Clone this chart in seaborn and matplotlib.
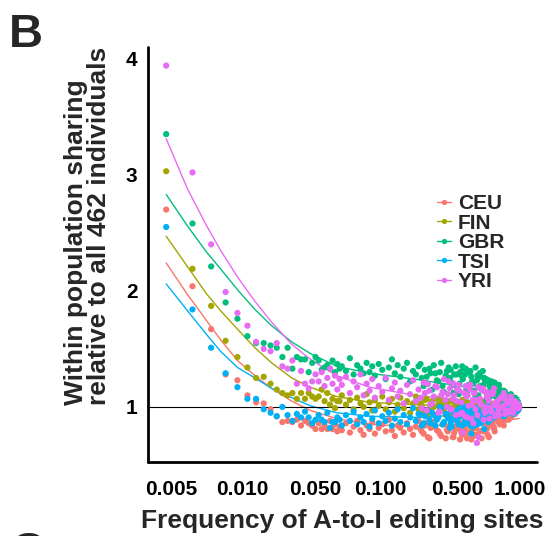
import matplotlib
matplotlib.use("Agg")
import matplotlib.pyplot as plt
import matplotlib.transforms as mtransforms
import numpy as np
import pandas as pd
import seaborn as sns
from matplotlib.lines import Line2D
from matplotlib.ticker import FixedLocator, FixedFormatter, NullLocator

# ---------------------------------------------------------------- data
populations = ["CEU", "FIN", "GBR", "TSI", "YRI"]
pop_colors = ["#F8766D", "#A3A500", "#00BF7D", "#00B0F6", "#E76BF3"]
n_individuals = 462

# number of carriers among the 462 individuals (frequency = count / 462)
allele_count = [
    2, 3, 4, 5, 6, 7, 8, 9, 10, 11, 12, 13, 14, 15, 16, 17, 18, 19,
    20, 21, 22, 23, 24, 25, 26, 27, 28, 29, 30, 32, 34, 36, 38, 40, 42, 44,
    46, 48, 50, 53, 56, 59, 62, 65, 68, 71, 74, 78, 82, 86, 90, 94, 98, 103,
    108, 113, 118, 124, 130, 136, 142, 149, 156, 163, 170, 178, 186, 194,
    203, 212, 221, 231, 241, 251, 262, 273, 284, 296, 308, 320, 333, 346,
    359, 372, 386, 400, 414, 428, 440, 450, 458, 462,
    101, 106, 111, 116, 121, 127, 133, 139, 145, 152, 159, 166, 174, 182,
    190, 198, 207, 216, 226, 236, 246, 256, 267, 278, 290, 302, 314, 326,
    339, 352, 365, 379, 393, 407, 421, 434, 445, 454, 460,
    201, 209, 218, 228, 238, 248, 259, 270, 281, 293, 305, 317, 330, 343,
    356, 369, 382, 396, 410, 424, 437,
    154, 161, 168, 176, 184, 192, 205, 214, 224, 233, 243, 253, 264, 275,
    287, 299, 311, 323, 336, 349, 362, 376, 390, 403, 417, 431, 443, 452,
]

ratio_ceu = [
    2.70, 2.04, 1.67, 1.28, 1.23, 1.10, 1.04, 1.03, 0.98, 0.92, 0.87, 0.88,
    0.87, 0.89, 0.84, 0.88, 0.86, 0.84,
    0.81, 0.86, 0.81, 0.84, 0.81, 0.88, 0.81, 0.85, 0.79, 0.83, 0.80, 0.86,
    0.78, 0.83, 0.88, 0.80, 0.76, 0.84, 0.81, 0.87, 0.77, 0.82, 0.85, 0.79,
    0.89, 0.80, 0.75, 0.84, 0.82, 0.78, 0.86, 0.81, 0.76, 0.83, 0.88, 0.79,
    0.84, 0.74, 0.82, 0.87, 0.80, 0.77, 0.85, 0.73, 0.83, 0.89, 0.78, 0.84,
    0.72, 0.86, 0.80, 0.91, 0.72, 0.83, 0.88, 0.79, 0.93, 0.85, 0.76, 0.90,
    0.84, 0.95, 0.88, 0.92, 0.86, 0.96, 0.91, 0.98, 0.94, 0.97, 1.00, 0.98,
    0.99, 1.00,
    0.81, 0.77, 0.86, 0.73, 0.83, 0.88, 0.79, 0.75, 0.85, 0.80, 0.90, 0.74,
    0.82, 0.87, 0.78, 0.84, 0.73, 0.89, 0.81, 0.76, 0.86, 0.92, 0.79, 0.84,
    0.74, 0.88, 0.82, 0.93, 0.87, 0.90, 0.84, 0.95, 0.89, 0.93, 0.96, 0.94,
    0.98, 0.97, 0.99,
    0.77, 0.85, 0.90, 0.75, 0.82, 0.87, 0.73, 0.89, 0.81, 0.92, 0.86, 0.79,
    0.91, 0.85, 0.94, 0.88, 0.92, 0.95, 0.91, 0.97, 0.96,
    0.79, 0.85, 0.74, 0.88, 0.81, 0.76, 0.87, 0.78, 0.83, 0.90, 0.75, 0.86,
    0.80, 0.92, 0.84, 0.89, 0.82, 0.93, 0.87, 0.91, 0.95, 0.89, 0.94, 0.97,
    0.95, 0.98, 0.97, 0.99,
]
ratio_fin = [
    3.03, 2.19, 1.87, 1.57, 1.43, 1.34, 1.25, 1.26, 1.20, 1.15, 1.12, 1.10,
    1.12, 1.07, 1.12, 1.07, 1.12, 1.09,
    1.07, 1.09, 1.15, 1.05, 1.12, 1.02, 1.07, 0.99, 1.05, 1.05, 1.10, 1.02,
    1.06, 0.98, 1.08, 1.03, 1.00, 1.11, 1.04, 0.97, 1.06, 1.01, 1.09, 0.98,
    1.04, 1.07, 0.96, 1.02, 1.08, 0.99, 1.05, 0.95, 1.03, 1.09, 0.98, 1.01,
    1.06, 0.94, 1.03, 1.00, 1.07, 0.97, 1.02, 0.93, 1.05, 0.99, 1.04, 0.92,
    1.01, 1.06, 0.96, 1.00, 0.83, 1.04, 0.95, 1.02, 0.91, 0.99, 1.05, 0.94,
    1.00, 0.97, 1.03, 0.95, 1.01, 0.98, 1.02, 0.96, 1.00, 0.98, 1.01, 0.99,
    1.00, 1.00,
    1.03, 0.96, 1.07, 0.99, 1.05, 0.93, 1.02, 1.06, 0.97, 1.01, 0.94, 1.05,
    0.99, 1.03, 0.92, 1.06, 1.00, 0.95, 1.04, 0.98, 1.02, 0.93, 1.05, 0.97,
    1.01, 0.96, 1.03, 0.98, 1.02, 0.95, 1.00, 1.03, 0.97, 1.01, 0.99, 1.02,
    0.98, 1.00, 1.00,
    0.98, 1.04, 0.94, 1.01, 1.06, 0.96, 1.00, 0.92, 1.03, 0.98, 1.02, 0.95,
    1.01, 0.97, 1.03, 0.99, 0.96, 1.01, 0.98, 1.00, 0.99,
    1.00, 1.05, 0.94, 1.02, 0.97, 1.06, 0.99, 0.93, 1.03, 0.98, 1.04, 0.96,
    1.01, 0.94, 1.03, 0.99, 1.02, 0.97, 1.00, 0.95, 1.02, 0.99, 1.01, 0.97,
    1.00, 0.99, 1.00, 1.00,
]
ratio_gbr = [
    3.35, 2.58, 2.21, 1.90, 1.76, 1.61, 1.55, 1.55, 1.53, 1.51, 1.43, 1.51,
    1.33, 1.43, 1.41, 1.41, 1.30, 1.38,
    1.43, 1.40, 1.32, 1.34, 1.36, 1.33, 1.40, 1.30, 1.37, 1.33, 1.35, 1.31,
    1.42, 1.28, 1.36, 1.33, 1.29, 1.38, 1.30, 1.35, 1.27, 1.37, 1.32, 1.24,
    1.34, 1.41, 1.29, 1.36, 1.26, 1.33, 1.38, 1.22, 1.31, 1.28, 1.35, 1.25,
    1.32, 1.20, 1.29, 1.36, 1.23, 1.30, 1.18, 1.27, 1.34, 1.21, 1.28, 1.16,
    1.30, 1.24, 1.33, 1.19, 1.26, 1.14, 1.23, 1.29, 1.17, 1.22, 1.12, 1.20,
    1.15, 1.09, 1.17, 1.11, 1.06, 1.13, 1.08, 1.10, 1.04, 1.07, 1.03, 1.05,
    1.02, 1.01,
    1.37, 1.18, 1.26, 1.33, 1.15, 1.29, 1.22, 1.38, 1.13, 1.31, 1.25, 1.19,
    1.35, 1.11, 1.27, 1.33, 1.16, 1.30, 1.21, 1.34, 1.10, 1.26, 1.19, 1.24,
    1.08, 1.22, 1.16, 1.12, 1.19, 1.07, 1.14, 1.10, 1.05, 1.11, 1.06, 1.08,
    1.03, 1.04, 1.02,
    1.28, 1.14, 1.31, 1.20, 1.09, 1.27, 1.17, 1.25, 1.06, 1.18, 1.13, 1.21,
    1.09, 1.15, 1.04, 1.12, 1.07, 1.09, 1.05, 1.06, 1.03,
    1.24, 1.32, 1.12, 1.28, 1.20, 1.35, 1.15, 1.30, 1.22, 1.11, 1.27, 1.18,
    1.31, 1.13, 1.23, 1.16, 1.10, 1.19, 1.14, 1.08, 1.12, 1.06, 1.10, 1.05,
    1.07, 1.03, 1.04, 1.02,
]
ratio_tsi = [
    2.55, 1.84, 1.51, 1.29, 1.17, 1.07, 1.07, 0.98, 0.95, 0.92, 1.00, 0.93,
    0.88, 0.94, 0.91, 0.96, 0.91, 0.86,
    0.89, 0.93, 0.89, 0.87, 0.95, 0.82, 0.87, 0.87, 0.91, 0.89, 0.84, 0.93,
    0.88, 0.96, 0.85, 0.91, 0.87, 0.94, 0.83, 0.90, 0.97, 0.86, 0.92, 0.88,
    0.95, 0.84, 0.90, 0.98, 0.87, 0.93, 0.85, 0.91, 0.99, 0.88, 0.94, 0.84,
    0.92, 0.97, 0.86, 0.93, 0.89, 1.00, 0.85, 0.94, 0.90, 0.83, 0.96, 0.88,
    0.92, 1.01, 0.86, 0.95, 0.77, 0.91, 0.98, 0.87, 0.94, 0.90, 1.02, 0.89,
    0.96, 0.92, 0.99, 0.94, 0.97, 0.93, 1.00, 0.96, 0.98, 0.97, 1.00, 0.98,
    0.99, 0.99,
    0.93, 0.86, 0.97, 0.89, 0.95, 0.84, 0.91, 0.99, 0.87, 0.94, 0.82, 0.90,
    0.96, 0.85, 0.92, 0.98, 0.88, 0.94, 0.83, 0.91, 0.97, 0.86, 0.93, 1.00,
    0.89, 0.95, 0.91, 0.98, 0.93, 0.96, 0.92, 0.99, 0.95, 0.97, 0.94, 0.98,
    0.96, 0.99, 0.98,
    0.88, 0.96, 0.84, 0.92, 0.99, 0.87, 0.93, 0.81, 0.95, 0.90, 0.97, 0.92,
    1.01, 0.94, 0.96, 0.93, 0.98, 0.95, 0.99, 0.97, 0.98,
    0.91, 0.86, 0.95, 0.89, 0.99, 0.84, 0.93, 0.88, 0.97, 0.90, 0.85, 0.95,
    0.91, 0.99, 0.87, 0.94, 0.97, 0.92, 1.00, 0.94, 0.97, 0.95, 0.99, 0.96,
    0.98, 0.97, 0.99, 0.99,
]
ratio_yri = [
    3.94, 3.02, 2.40, 1.99, 1.81, 1.70, 1.56, 1.50, 1.48, 1.55, 1.35, 1.33,
    1.40, 1.20, 1.31, 1.20, 1.16, 1.22,
    1.28, 1.22, 1.30, 1.18, 1.25, 1.33, 1.20, 1.27, 1.15, 1.24, 1.19, 1.26,
    1.12, 1.22, 1.17, 1.28, 1.10, 1.20, 1.14, 1.24, 1.08, 1.18, 1.13, 1.25,
    1.06, 1.16, 1.21, 1.09, 1.14, 1.03, 1.19, 1.11, 1.23, 1.05, 1.15, 0.99,
    1.12, 1.20, 1.02, 1.09, 1.17, 0.96, 1.13, 1.06, 1.22, 0.98, 1.10, 1.15,
    0.94, 0.78, 1.18, 1.01, 0.90, 1.12, 0.69, 1.04, 1.14, 0.95, 1.08, 0.99,
    1.11, 0.92, 1.05, 1.00, 1.09, 0.94, 1.03, 0.97, 1.06, 0.98, 1.02, 0.99,
    1.01, 1.00,
    1.08, 1.21, 0.97, 1.14, 1.03, 1.18, 0.95, 1.10, 1.24, 1.00, 1.16, 1.07,
    0.93, 1.19, 1.04, 1.12, 0.91, 1.15, 1.06, 0.98, 1.17, 1.02, 0.89, 1.13,
    1.05, 0.96, 1.16, 1.01, 0.93, 1.08, 1.12, 0.97, 1.04, 1.09, 0.95, 1.05,
    1.00, 1.03, 0.99,
    0.92, 1.10, 1.19, 0.86, 1.06, 0.74, 1.15, 0.97, 1.09, 0.90, 1.13, 1.02,
    0.94, 1.07, 0.99, 1.10, 0.96, 1.04, 0.98, 1.03, 1.01,
    1.11, 0.98, 1.20, 1.05, 1.14, 0.95, 1.09, 1.17, 1.02, 1.12, 0.93, 1.07,
    1.16, 1.00, 1.10, 0.96, 1.13, 1.04, 0.97, 1.08, 1.01, 1.06, 0.95, 1.04,
    0.99, 1.03, 1.00, 1.01,
]

# smoothed trend per population
curve_freq = [0.00433, 0.006, 0.008, 0.010, 0.013, 0.017, 0.022, 0.030,
              0.040, 0.060, 0.100, 0.200, 0.400, 0.700, 1.000]
curve_ceu = [2.24, 1.97, 1.75, 1.58, 1.40, 1.27, 1.16, 1.05,
             0.97, 0.90, 0.85, 0.83, 0.85, 0.88, 0.90]
curve_fin = [2.47, 2.21, 1.98, 1.83, 1.67, 1.51, 1.38, 1.25,
             1.17, 1.09, 1.04, 1.02, 1.01, 1.00, 1.00]
curve_gbr = [2.83, 2.56, 2.34, 2.19, 2.01, 1.84, 1.70, 1.56,
             1.46, 1.35, 1.29, 1.24, 1.18, 1.12, 1.08]
curve_tsi = [2.06, 1.83, 1.63, 1.48, 1.34, 1.25, 1.16, 1.08,
             1.01, 0.95, 0.92, 0.91, 0.93, 0.95, 0.97]
curve_yri = [3.31, 2.88, 2.57, 2.35, 2.12, 1.91, 1.73, 1.54,
             1.41, 1.27, 1.17, 1.10, 1.06, 1.03, 1.02]

x_ticks = [0.005, 0.010, 0.050, 0.100, 0.500, 1.000]
x_label_shift = [-4, 22, -10, 11, -17, 1]      # horizontal nudge, pixels
y_ticks = [1, 2, 3, 4]

# ---------------------------------------------------------------- frames
ratios = [ratio_ceu, ratio_fin, ratio_gbr, ratio_tsi, ratio_yri]
curves = [curve_ceu, curve_fin, curve_gbr, curve_tsi, curve_yri]

points = pd.concat(
    [pd.DataFrame({"population": p,
                   "freq": np.array(allele_count) / n_individuals,
                   "ratio": r})
     for p, r in zip(populations, ratios)],
    ignore_index=True)
trend = pd.concat(
    [pd.DataFrame({"population": p, "freq": curve_freq, "ratio": c})
     for p, c in zip(populations, curves)],
    ignore_index=True)

# ---------------------------------------------------------------- style
sns.set_style("white")
plt.rcParams["font.family"] = ["Liberation Sans", "DejaVu Sans"]
plt.rcParams["font.weight"] = "bold"

W, H = 553, 536
fig = plt.figure(figsize=(W / 100, H / 100), dpi=100)
ax = fig.add_axes([148 / W, 1 - 462 / H, (537 - 148) / W, (462 - 47) / H])

palette = dict(zip(populations, pop_colors))

sns.lineplot(data=trend, x="freq", y="ratio", hue="population",
             hue_order=populations, palette=palette, estimator=None,
             linewidth=1.0, legend=False, ax=ax, zorder=2)
ax.axhline(1, color="black", linewidth=0.8, zorder=2.5)
sns.scatterplot(data=points, x="freq", y="ratio", hue="population",
                hue_order=populations, palette=palette, s=20,
                linewidth=0, legend=False, ax=ax, zorder=3)

ax.set_xscale("log")
ax.set_xlim(0.00327, 1.318)
ax.set_ylim(0.526, 4.10)
ax.xaxis.set_major_locator(FixedLocator(x_ticks))
ax.xaxis.set_major_formatter(FixedFormatter([f"{t:.3f}" for t in x_ticks]))
ax.xaxis.set_minor_locator(NullLocator())
ax.yaxis.set_major_locator(FixedLocator(y_ticks))
ax.yaxis.set_major_formatter(FixedFormatter([str(t) for t in y_ticks]))

for side in ("top", "right"):
    ax.spines[side].set_visible(False)
for side in ("left", "bottom"):
    ax.spines[side].set_linewidth(2.0)
    ax.spines[side].set_color("black")
    ax.spines[side].set_capstyle("round")

ax.tick_params(axis="both", which="major", length=4, width=1.1,
               color="#333333", labelsize=15, labelcolor="black",
               direction="out")
ax.tick_params(axis="x", pad=9)
ax.tick_params(axis="y", pad=3.5)
for lab in ax.get_xticklabels() + ax.get_yticklabels():
    lab.set_fontweight("bold")
for lab, dx in zip(ax.get_xticklabels(), x_label_shift):
    lab.set_transform(lab.get_transform()
                      + mtransforms.ScaledTranslation(dx / 100, 0,
                                                      fig.dpi_scale_trans))

ax.set_xlabel("Frequency of A-to-I editing sites", fontsize=19,
              fontweight="bold", labelpad=7)
ax.set_ylabel("Within population sharing\nrelative to all 462 individuals",
              fontsize=19, fontweight="bold", linespacing=0.95,
              multialignment="left")
ax.yaxis.set_label_coords(-0.095, (462 - 226) / 415)

# legend: coloured line with a dot, then the population name
for i, (pop, col) in enumerate(zip(populations, pop_colors)):
    yf = 1 - (201.7 + 19.5 * i) / H
    fig.add_artist(Line2D([437 / W, 451 / W], [yf, yf], color=col,
                          linewidth=1.0, transform=fig.transFigure))
    fig.add_artist(Line2D([444 / W], [yf], color=col, marker="o",
                          markersize=3.8, markeredgewidth=0,
                          transform=fig.transFigure))
    fig.text(458 / W, yf, pop, fontsize=15, fontweight="bold",
             ha="left", va="center_baseline")

# panel letters
fig.text(9 / W, 1 - 13 / H, "B", fontsize=34, fontweight="bold",
         ha="left", va="top")
fig.text(10 / W, 1 - 531 / H, "C", fontsize=34, fontweight="bold",
         ha="left", va="top")

fig.savefig("out.png", dpi=100)
